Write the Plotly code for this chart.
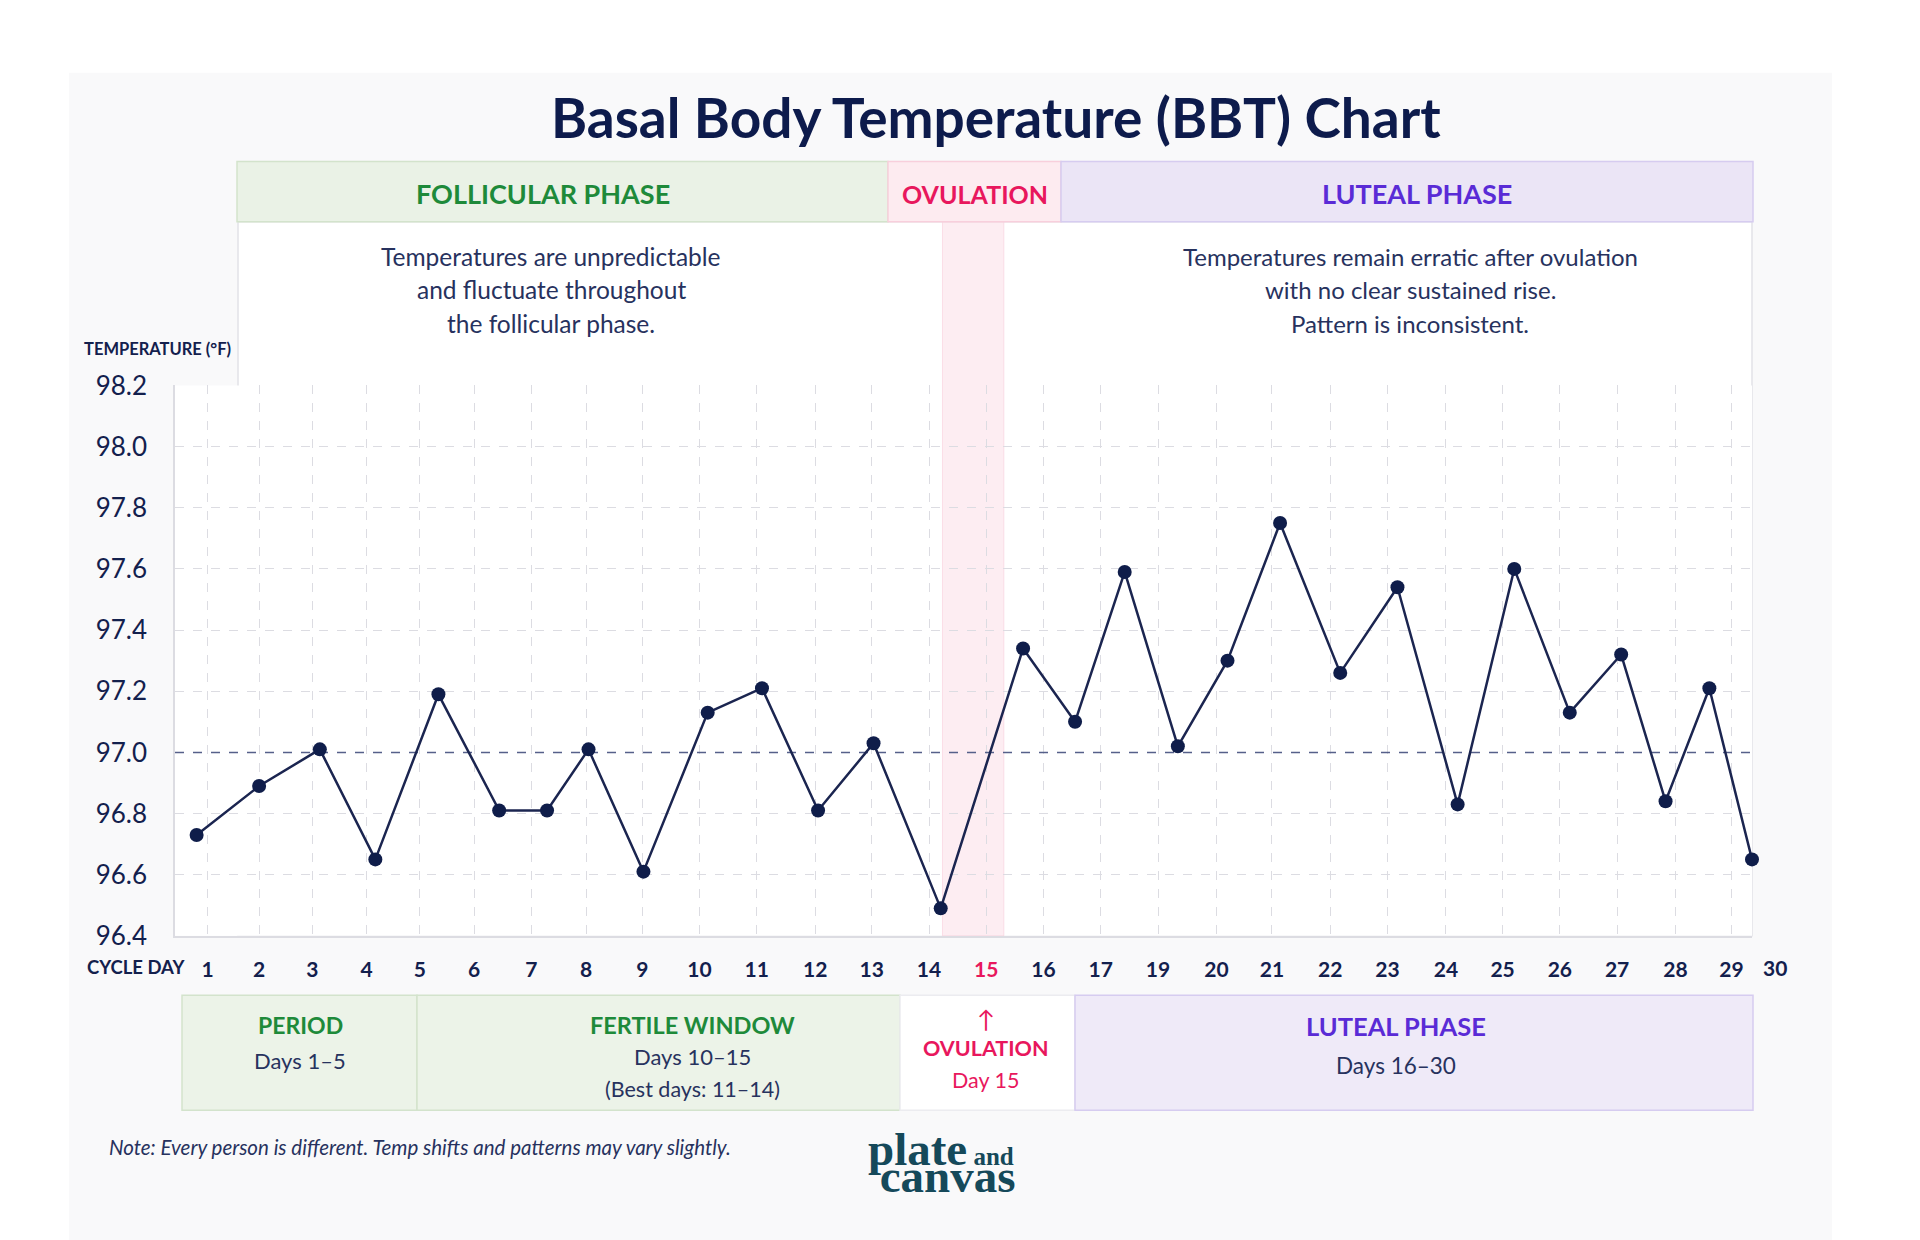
import plotly.graph_objects as go

# ---------------- data ----------------
day_labels = ["1", "2", "3", "4", "5", "6", "7", "8", "9", "10", "11", "12", "13", "14",
              "15", "16", "17", "19", "20", "21", "22", "23", "24", "25", "26", "27",
              "28", "29", "30"]
# tick label positions along the day axis (grid-cell units, as drawn)
tick_pos = [0.56, 1.44, 2.35, 3.28, 4.19, 5.12, 6.10, 7.04, 8.00, 8.98, 9.96, 10.96,
            11.93, 12.91, 13.89, 14.87, 15.85, 16.83, 17.83, 18.78, 19.78, 20.76,
            21.76, 22.73, 23.71, 24.69, 25.69, 26.65, 27.39]
# temperature readings (°F) and where each point sits on the day axis
point_pos = [0.37, 1.44, 2.48, 3.43, 4.51, 5.55, 6.37, 7.08, 8.02, 9.12, 10.05, 11.01,
             11.96, 13.11, 14.52, 15.41, 16.26, 17.17, 18.02, 18.92, 19.95, 20.93,
             21.96, 22.93, 23.88, 24.76, 25.52, 26.27, 27.0]
temps = [96.73, 96.89, 97.01, 96.65, 97.19, 96.81, 96.81, 97.01, 96.61, 97.13, 97.21,
         96.81, 97.03, 96.49, 97.34, 97.10, 97.59, 97.02, 97.30, 97.75, 97.26, 97.54,
         96.83, 97.60, 97.13, 97.32, 96.84, 97.21, 96.65]
y_ticks = [96.4, 96.6, 96.8, 97.0, 97.2, 97.4, 97.6, 97.8, 98.0, 98.2]
x_range = [0, 27]
baseline_temp = 97.0
ovulation_band = [13.14, 14.19]
highlight_label = "15"

# ---------------- styling helpers ----------------
W, H = 1920, 1240
OFF = 8  # page body margin
def px(x):
    return (x - OFF) / W
def py(y):
    return 1 - (y - OFF) / H

FONT = "Lato"
NAVY = "#13204d"
TEXT = "#27325e"
GREEN = "#1e8a3a"
GREEN_FILL = "#eaf2e6"
GREEN_LINE = "#d3e3cc"
PINK = "#e8175d"
PINK_FILL = "#fdebf0"
PINK_LINE = "#f8cfdc"
PURPLE = "#5a2bd6"
LAV_FILL = "#ebe5f6"
LAV_LINE = "#d6ccf0"
GRID = "#dcdce2"

x_dom = [px(175), px(1752)]
y_dom = [py(943), py(378)]

def x_to_paper(v):
    return x_dom[0] + (v - x_range[0]) / (x_range[1] - x_range[0]) * (x_dom[1] - x_dom[0])

fig = go.Figure()
# 97.0 reference line
fig.add_trace(go.Scatter(
    x=x_range, y=[baseline_temp, baseline_temp], mode="lines",
    line=dict(color="#56608a", width=1.5, dash="dash"),
    hoverinfo="skip", showlegend=False,
))
fig.add_trace(go.Scatter(
    x=point_pos, y=temps, mode="lines+markers",
    line=dict(color="#1b2550", width=2.5),
    marker=dict(size=14, color="#0f1d4a"),
    cliponaxis=False, hoverinfo="skip", showlegend=False,
))

shapes = []
def rect(x0, y0, x1, y1, fill, line=None, lw=1.5):
    shapes.append(dict(type="rect", xref="paper", yref="paper",
                       x0=px(x0), x1=px(x1), y0=py(y1), y1=py(y0),
                       fillcolor=fill, layer="below",
                       line=dict(color=line or "rgba(0,0,0,0)", width=lw if line else 0)))

# card
rect(69, 57, 1832, 1260, "#f9f9fa")
# white panel & plot area
rect(238, 210, 1752, 943, "#ffffff", "#e2e2e8", 1.5)
rect(175, 378, 1752, 943, "#ffffff")
# ovulation band in plot
shapes.append(dict(type="rect", xref="x", yref="paper",
                   x0=ovulation_band[0], x1=ovulation_band[1], y0=py(943), y1=py(210),
                   fillcolor="rgba(252,225,234,0.6)", layer="below",
                   line=dict(color="rgba(248,205,218,0.6)", width=1)))
# header boxes
rect(237, 148, 888, 210, GREEN_FILL, GREEN_LINE)
rect(888, 148, 1061, 210, PINK_FILL, PINK_LINE)
rect(1061, 148, 1753, 210, LAV_FILL, LAV_LINE)
# bottom legend boxes
rect(182, 1004, 417, 1122, "#ecf3e8", GREEN_LINE)
rect(417, 1004, 900, 1122, "#ecf3e8", GREEN_LINE)
rect(900, 1004, 1075, 1122, "#ffffff", "#ececf0")
rect(1075, 1004, 1753, 1122, "#efeaf8", LAV_LINE)

ann = []
def text(x, y, s, size, color, weight="normal", xanchor="center", style="normal", family=FONT):
    ann.append(dict(x=px(x), y=py(y), xref="paper", yref="paper", text=s,
                    showarrow=False, xanchor=xanchor, yanchor="middle",
                    font=dict(family=family, size=size, color=color, weight=weight, style=style)))

text(996, 102, "Basal Body Temperature (BBT) Chart", 55, "#0d1b4c", "bold")
text(543, 181, "FOLLICULAR PHASE", 27, GREEN, "bold")
text(975, 181, "OVULATION", 25, PINK, "bold")
text(1417, 181, "LUTEAL PHASE", 27, PURPLE, "bold")
for i, s in enumerate(["Temperatures are unpredictable", "and fluctuate throughout",
                       "the follicular phase."]):
    text(551, 246 + 34 * i, s, 24.5, TEXT)
for i, s in enumerate(["Temperatures remain erratic after ovulation",
                       "with no clear sustained rise.", "Pattern is inconsistent."]):
    text(1410, 246 + 34 * i, s, 24, TEXT)
text(82, 341, "TEMPERATURE (°F)", 16.5, NAVY, "bold", xanchor="left")
text(85, 975, "CYCLE DAY", 18.5, NAVY, "bold", xanchor="left")

text(300, 1034, "PERIOD", 23, GREEN, "bold")
text(300, 1071, "Days 1–5", 22, TEXT)
text(692, 1034, "FERTILE WINDOW", 23.5, GREEN, "bold")
text(692, 1067, "Days 10–15", 22, TEXT)
text(692, 1100, "(Best days: 11–14)", 21.5, TEXT)
text(986, 1028, "↑", 24, PINK)
text(986, 1058, "OVULATION", 21.5, PINK, "bold")
text(986, 1091, "Day 15", 21.5, PINK)
text(1396, 1036, "LUTEAL PHASE", 25.5, PURPLE, "bold")
text(1396, 1076, "Days 16–30", 22.5, TEXT)

text(107, 1160, "Note: Every person is different. Temp shifts and patterns may vary slightly.",
     20.5, TEXT, xanchor="left", style="italic")

# logo: one text block, tight leading from the small base font size
LOGO = "#15495a"
logo_text = ("<span style='font-size:47px'>plate</span>"
             "<span style='font-size:25px'> and</span><br>"
             "<span style='font-size:47px'>\u00a0canvas</span>")
ann.append(dict(x=px(866), y=py(1133), xref="paper", yref="paper", text=logo_text,
                showarrow=False, xanchor="left", yanchor="top", align="left",
                font=dict(family="Liberation Serif", size=21, color=LOGO, weight="bold")))

# x tick labels (those beyond the frame placed by the same linear day scale)
TICK_FONT = dict(family=FONT, size=21, color=NAVY, weight="bold")
tv, tt = [], []
for p, lab in zip(tick_pos, day_labels):
    s = f"<span style='color:{PINK}'>{lab}</span>" if lab == highlight_label else lab
    if x_range[0] <= p <= x_range[1]:
        tv.append(p)
        tt.append(s)
    else:
        ann.append(dict(x=x_to_paper(p), xref="paper", y=py(975), yref="paper",
                        xanchor="center", yanchor="middle", text=s, showarrow=False,
                        font=TICK_FONT))

fig.update_layout(
    width=W, height=H, autosize=False,
    margin=dict(l=0, r=0, t=0, b=0),
    paper_bgcolor="#ffffff", plot_bgcolor="rgba(0,0,0,0)",
    shapes=shapes, annotations=ann, showlegend=False,
    xaxis=dict(domain=x_dom, range=x_range,
               tickmode="array", tickvals=tv, ticktext=tt, ticks="",
               ticklabelstandoff=14, tickfont=TICK_FONT,
               showgrid=True, gridcolor=GRID, griddash="dash", gridwidth=1,
               zeroline=False, showline=True, linecolor="#dcdce2", linewidth=1.5),
    yaxis=dict(domain=y_dom, range=[y_ticks[0], y_ticks[-1]],
               tickmode="array", tickvals=y_ticks,
               ticktext=[f"{v:.1f}" for v in y_ticks], ticks="",
               ticklabelstandoff=21,
               tickfont=dict(family=FONT, size=26, color=NAVY),
               showgrid=True, gridcolor=GRID, griddash="dash", gridwidth=1,
               zeroline=False, showline=True, linecolor="#dcdce2", linewidth=1.5),
)

fig.write_html("out.html")
